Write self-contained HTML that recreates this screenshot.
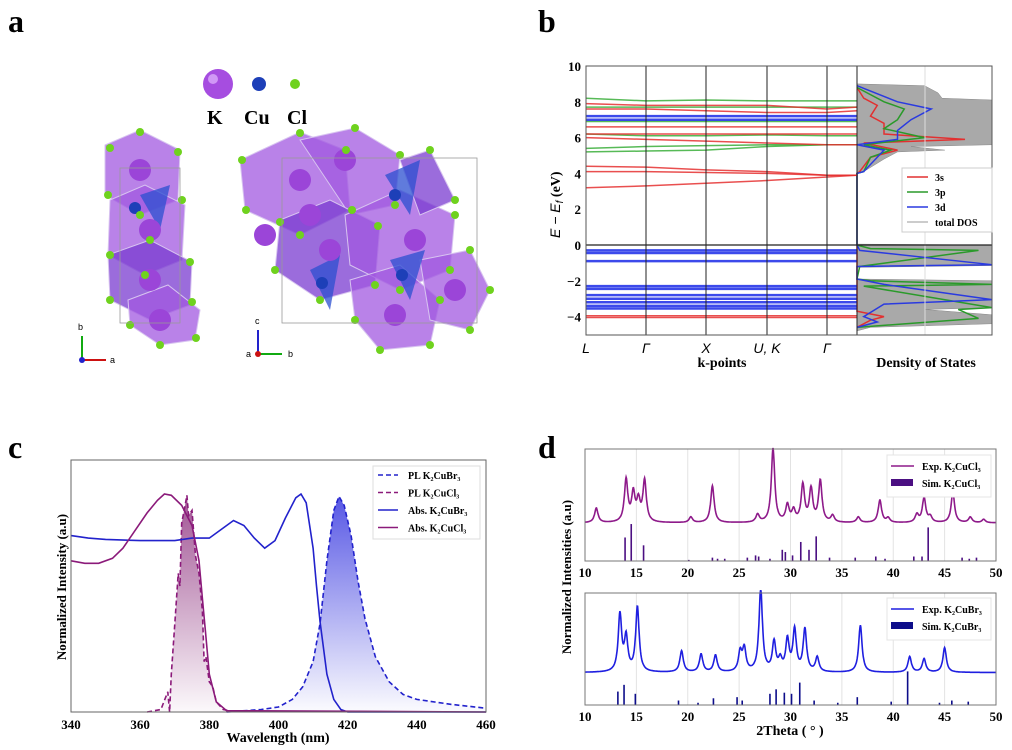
<!DOCTYPE html>
<html><head><meta charset="utf-8"><style>
html,body{margin:0;padding:0;background:#fff;}
svg{display:block;font-family:"Liberation Serif",serif;}
</style></head><body>
<svg id="fig" width="1012" height="750" viewBox="0 0 1012 750" xmlns="http://www.w3.org/2000/svg">
<defs>
<linearGradient id="gBlue" x1="0" y1="0" x2="0" y2="1"><stop offset="0" stop-color="#3a3ae0" stop-opacity="0.85"/><stop offset="1" stop-color="#3a3ae0" stop-opacity="0.02"/></linearGradient>
<linearGradient id="gPur" x1="0" y1="0" x2="0" y2="1"><stop offset="0" stop-color="#8a2a7a" stop-opacity="0.8"/><stop offset="1" stop-color="#8a2a7a" stop-opacity="0.03"/></linearGradient>
</defs>
<g font-weight="bold" font-size="32" fill="#000">
<text x="8" y="32">a</text>
<text x="538" y="32">b</text>
<text x="8" y="458">c</text>
<text x="538" y="458">d</text>
</g>
<!-- panel a -->
<g>
<circle cx="218" cy="84" r="15" fill="#a64de0"/><circle cx="213" cy="79" r="5" fill="#e3b8ff" opacity="0.7"/>
<circle cx="259" cy="84" r="7" fill="#1d3fb8"/>
<circle cx="295" cy="84" r="5" fill="#6fd21e"/>
<g font-weight="bold" font-size="20"><text x="207" y="124">K</text><text x="244" y="124">Cu</text><text x="287" y="124">Cl</text></g>
</g>
<g id="crystal"></g>
<g font-size="9" font-family="Liberation Sans,sans-serif">
<line x1="82" y1="360" x2="82" y2="336" stroke="#1a1" stroke-width="2"/><line x1="82" y1="360" x2="106" y2="360" stroke="#c11" stroke-width="2"/><circle cx="82" cy="360" r="3" fill="#22c"/>
<text x="78" y="330">b</text><text x="110" y="363">a</text>
<line x1="258" y1="354" x2="258" y2="330" stroke="#22c" stroke-width="2"/><line x1="258" y1="354" x2="282" y2="354" stroke="#1a1" stroke-width="2"/><circle cx="258" cy="354" r="3" fill="#c11"/>
<text x="255" y="324">c</text><text x="288" y="357">b</text><text x="246" y="357">a</text>
</g>
<g id="pb"></g>
<g id="pc"></g>
<g id="pd"></g>
</svg>
<script>
// ---------- Panel c data ----------
const absCl = [[340,0.60],[344,0.59],[348,0.59],[352,0.61],[355,0.65],[358,0.71],[362,0.79],[365,0.84],[367,0.865],[369,0.86],[372,0.82],[375,0.74],[377,0.6],[378,0.45],[379,0.3],[380,0.15],[382,0.04],[385,0.005],[460,0]];
const absBr = [[340,0.70],[345,0.69],[350,0.685],[360,0.68],[366,0.68],[370,0.68],[375,0.69],[380,0.69],[384,0.73],[387,0.76],[390,0.74],[393,0.69],[396,0.65],[399,0.68],[402,0.77],[405,0.85],[406.5,0.865],[408,0.83],[410,0.65],[411,0.5],[412,0.36],[414,0.15],[416,0.05],[418,0.01],[420,0],[460,0]];
const plBr = [[385,0],[395,0.01],[400,0.02],[404,0.05],[407,0.1],[410,0.2],[412,0.35],[414,0.6],[416,0.8],[417.5,0.855],[419,0.82],[421,0.7],[423,0.52],[425,0.37],[428,0.22],[432,0.12],[436,0.07],[440,0.05],[450,0.03],[460,0.015]];
const plCl = [[362,0],[366,0.01],[368,0.08],[368.5,0],[369,0.15],[370,0.35],[371,0.55],[371.5,0.5],[372,0.75],[373,0.82],[373.5,0.86],[374,0.78],[375,0.8],[376,0.62],[377,0.55],[378,0.4],[378.5,0.2],[379,0.22],[380,0.12],[381,0.1],[382,0.04],[384,0.01],[388,0]];
const cTicks = [340,360,380,400,420,440,460];
const cLegend = ["PL K₂CuBr₃","PL K₂CuCl₃","Abs. K₂CuBr₃","Abs. K₂CuCl₃"];
// ---------- Panel d data ----------
const dTicks = [10,15,20,25,30,35,40,45,50];
const clPeakPos = [11.1,14.0,14.7,15.2,15.8,20.3,22.4,26.8,28.3,29.7,30.3,31.2,32.0,32.9,34.1,36.6,38.7,39.5,42.3,43.0,43.6,45.8,47.5,48.8];
const clPeakH   = [0.13,0.38,0.25,0.18,0.37,0.05,0.33,0.07,0.66,0.15,0.10,0.33,0.29,0.37,0.06,0.05,0.20,0.04,0.07,0.22,0.05,0.27,0.05,0.03];
const clSimPos = [13.9,14.5,15.7,20.1,22.4,22.9,23.6,25.8,26.6,26.9,28.0,29.2,29.5,30.2,31.0,31.8,32.5,33.8,36.3,38.3,39.2,42.0,42.8,43.4,46.7,47.4,48.1];
const clSimH   = [0.21,0.33,0.14,0.01,0.03,0.02,0.02,0.03,0.05,0.04,0.02,0.10,0.08,0.05,0.17,0.10,0.22,0.03,0.03,0.04,0.02,0.04,0.04,0.30,0.03,0.02,0.03];
const brPeakPos = [13.4,14.0,15.1,19.4,21.3,22.7,25.1,25.5,27.1,28.4,29.0,29.7,30.4,31.4,32.6,36.8,41.6,43.0,45.0];
const brPeakH   = [0.51,0.30,0.58,0.19,0.16,0.15,0.17,0.20,0.75,0.26,0.10,0.28,0.37,0.38,0.13,0.42,0.14,0.12,0.22];
const brSimPos = [13.2,13.8,14.9,19.1,21.0,22.5,24.8,25.3,28.0,28.6,29.4,30.1,30.9,32.3,34.6,36.5,39.8,41.4,44.5,45.7,47.3];
const brSimH   = [0.12,0.18,0.10,0.04,0.02,0.06,0.07,0.04,0.10,0.14,0.11,0.10,0.20,0.04,0.02,0.07,0.03,0.30,0.02,0.04,0.03];
// ---------- Panel b data ----------
const kLabels = ["L","Γ","X","U, K","Γ"];
const eTicks = [10,8,6,4,2,0,-2,-4];
const redBands = [[7.9,7.8,7.8,7.8,7.6,7.7],[7.6,7.6,7.5,7.4,7.4,7.5],[6.6,6.6,6.6,6.6,6.6,6.6],[6.0,5.9,5.8,5.7,5.6,5.6],[6.2,6.2,6.2,6.2,6.2,6.2],[4.4,4.35,4.2,4.1,3.9,3.9],[4.1,4.1,4.05,4.0,3.9,3.9],[3.2,3.3,3.45,3.6,3.8,3.9],[-3.95,-3.95,-3.95,-3.95,-3.95,-3.95],[-4.05,-4.05,-4.05,-4.05,-4.05,-4.05]];
const greenBands = [[8.2,8.05,8.1,8.05,8.05,8.05],[7.7,7.7,7.7,7.7,7.7,7.7],[6.9,6.9,6.9,6.9,6.9,6.9],[6.2,6.1,6.1,6.15,6.1,6.1],[5.4,5.5,5.55,5.6,5.6,5.6],[5.2,5.25,5.3,5.5,5.6,5.6]];
const blueBands = [[7.2,7.2,7.2,7.2,7.2,7.2],[7.0,7.0,7.0,7.0,7.0,7.0],[-0.3,-0.3,-0.3,-0.3,-0.3,-0.3],[-0.45,-0.45,-0.45,-0.45,-0.45,-0.45],[-0.9,-0.9,-0.9,-0.9,-0.9,-0.9],[-2.3,-2.3,-2.3,-2.3,-2.3,-2.3],[-2.45,-2.45,-2.45,-2.45,-2.45,-2.45],[-2.8,-2.8,-2.8,-2.8,-2.8,-2.8],[-3.0,-3.0,-3.0,-3.0,-3.0,-3.0],[-3.2,-3.2,-3.2,-3.2,-3.2,-3.2],[-3.4,-3.4,-3.4,-3.4,-3.4,-3.4],[-3.55,-3.55,-3.55,-3.55,-3.55,-3.55]];
const totalDos = [[9.0,0],[8.9,0.5],[8.5,0.6],[8.2,0.63],[8.1,1],[5.6,1],[5.5,0.4],[5.3,0.65],[5.2,0.3],[4.8,0.2],[4.1,0.05],[4.0,0],[0.05,0],[0,1],[-1.15,1],[-1.25,0],[-1.9,0],[-2.0,1],[-3.5,1],[-3.6,0.5],[-3.9,1],[-4.4,1],[-4.6,0.1],[-4.8,0]];
const sDos = [[8.8,0],[8.2,0.05],[7.8,0.15],[7.2,0.1],[6.8,0.2],[6.2,0.2],[5.9,0.8],[5.7,0.05],[5.3,0.3],[4.9,0.1],[4.1,0.02],[4.0,0],[-3.7,0],[-4.0,0.2],[-4.2,0.1],[-4.6,0]];
const pDos = [[8.8,0],[8.0,0.2],[7.6,0.35],[7.0,0.3],[6.5,0.2],[6.0,0.5],[5.6,0.05],[5.3,0.25],[4.9,0.1],[4.1,0.05],[4.0,0],[0,0],[-0.2,0.1],[-0.3,0.9],[-1.2,0.02],[-1.9,0],[-2.0,0.1],[-2.2,1],[-2.3,0.05],[-3.5,1],[-3.6,0.75],[-4.1,0.9],[-4.6,0]];
const dDos = [[8.9,0],[8.0,0.3],[7.6,0.55],[7.0,0.4],[6.4,0.3],[5.9,0.3],[5.6,0],[5.3,0.2],[4.1,0.05],[4.0,0],[0,0],[-0.3,0.02],[-1.1,1],[-1.2,0],[-1.9,0],[-2.2,0.2],[-3.05,1],[-3.3,0.2],[-4.0,0.05],[-4.3,0.15],[-4.6,0]];
const dosLegend = ["3s","3p","3d","total DOS"];

const NS="http://www.w3.org/2000/svg";
function mk(tag,attrs,parent){const e=document.createElementNS(NS,tag);for(const k in attrs)e.setAttribute(k,attrs[k]);parent.appendChild(e);return e;}
function txt(s,attrs,parent){const e=mk('text',attrs,parent);e.textContent=s;return e;}

// ================= Panel a =================
(function(){
  const g=document.getElementById('crystal');
  const polys=[
   "105,145 140,130 180,150 178,200 140,215 105,195","110,200 145,185 185,205 182,260 145,275 108,255",
   "108,255 150,240 192,262 190,305 150,320 110,300","128,300 168,285 200,310 195,340 160,345 130,325",
   "240,160 300,132 345,150 350,210 300,235 245,210","300,140 355,128 400,155 395,205 350,215",
   "280,220 330,200 380,225 375,285 320,300 275,270","345,215 400,190 455,215 450,270 400,290 350,265",
   "350,280 400,265 440,300 430,345 380,350 355,320","420,260 470,250 490,290 470,330 430,320",
   "400,160 430,150 455,200 420,215"];
  polys.forEach((p,i)=>{
    const e=mk('polygon',{points:p,fill:i%4===2?'#7a3bd0':'#a158e0','fill-opacity':0.75,stroke:'#d8c4f0','stroke-width':1},g);
    
    
  });
  [["140,195 170,185 160,230"],["385,175 420,160 410,215"],["310,270 340,255 330,310"],["390,260 425,250 410,300"]].forEach(p=>{
    const e=mk('polygon',{points:p[0],fill:'#2b4fd0','fill-opacity':0.75},g);
    
    
  });
  const K=[[140,170],[150,230],[150,280],[160,320],[300,180],[345,160],[330,250],[415,240],[395,315],[455,290],[265,235],[310,215]];
  K.forEach(c=>{const e=mk('circle',{cx:c[0],cy:c[1],r:11,fill:'#9b45d8'},g);});
  const Cu=[[135,208],[395,195],[322,283],[402,275]];
  Cu.forEach(c=>{const e=mk('circle',{cx:c[0],cy:c[1],r:6,fill:'#1d3fb8'},g);});
  const Cl=[[110,148],[140,132],[178,152],[108,195],[182,200],[110,255],[190,262],[110,300],[192,302],[130,325],[160,345],[196,338],[140,215],[145,275],[150,240],
   [242,160],[300,133],[346,150],[352,210],[300,235],[246,210],[355,128],[400,155],[395,205],[280,222],[378,226],[275,270],[320,300],[375,285],[455,215],[450,270],[400,290],[440,300],[430,345],[380,350],[355,320],[470,250],[490,290],[470,330],[430,150],[455,200]];
  Cl.forEach(c=>{const e=mk('circle',{cx:c[0],cy:c[1],r:4,fill:'#6fd21e'},g);});
  mk('rect',{x:120,y:168,width:60,height:155,fill:'none',stroke:'#999','stroke-width':0.8},g);
  mk('rect',{x:282,y:158,width:195,height:165,fill:'none',stroke:'#999','stroke-width':0.8},g);
})();

// ================= Panel b =================
(function(){
  const g=document.getElementById('pb');
  const x0=586,xB=857,xD=992,yTop=66,yBot=335;
  const ey=e=>245-e*17.9;
  const kx=[586,646,706,767,827,857];
  const dx=v=>xB+v*(xD-xB);
  let pts=totalDos.map(d=>dx(d[1])+','+ey(d[0])).join(' ');
  let e=mk('polygon',{points:xB+','+ey(9)+' '+pts+' '+xB+','+ey(-4.8),fill:'#a9a9a9',stroke:'#888','stroke-width':0.5},g);
  
  
  [[sDos,'#e23030','dos-3s'],[pDos,'#2a9a2a','dos-3p'],[dDos,'#2a3ae0','dos-3d']].forEach(([arr,c,n])=>{
    const l=mk('polyline',{points:arr.map(d=>dx(d[1])+','+ey(d[0])).join(' '),fill:'none',stroke:c,'stroke-width':1.5},g);
    
    
  });
  mk('line',{x1:925,y1:yTop,x2:925,y2:yBot,stroke:'#ddd','stroke-width':1},g);
  [[greenBands,'#3aae3a',1.5],[redBands,'#e53030',1.5],[blueBands,'#1a2ae8',2.5]].forEach(([set,c,w])=>{
    set.forEach(b=>{
      const l=mk('polyline',{points:b.map((v,i)=>kx[i]+','+ey(v)).join(' '),fill:'none',stroke:c,'stroke-width':w,'stroke-opacity':0.85},g);
      
      
    });
  });
  mk('line',{x1:x0,y1:ey(0),x2:xD,y2:ey(0),stroke:'#222','stroke-width':1.3},g);
  kx.slice(1,5).forEach(x=>{mk('line',{x1:x,y1:yTop,x2:x,y2:yBot,stroke:'#222','stroke-width':1},g);});
  mk('line',{x1:xB,y1:yTop,x2:xB,y2:yBot,stroke:'#222','stroke-width':1},g);
  e=mk('rect',{x:x0,y:yTop,width:xD-x0,height:yBot-yTop,fill:'none',stroke:'#555','stroke-width':1},g);
  
  
  eTicks.forEach(t=>{
    const tt=txt(t<0?'−'+(-t):String(t),{x:581,y:ey(t)+5,'text-anchor':'end','font-size':13,'font-weight':'bold'},g);
    
    
  });
  kLabels.forEach((k,i)=>{
    const tt=txt(k,{x:kx[i],y:353,'text-anchor':'middle','font-size':14,'font-style':'italic','font-family':'Liberation Sans,sans-serif'},g);
    
    
  });
  txt('k-points',{x:722,y:367,'text-anchor':'middle','font-size':14,'font-weight':'bold'},g);
  txt('Density of States',{x:926,y:367,'text-anchor':'middle','font-size':14,'font-weight':'bold'},g);
  const yl=txt('E − E',{x:0,y:0,'font-size':14,'font-style':'italic','font-family':'Liberation Sans,sans-serif',transform:'translate(560,238) rotate(-90)'},g);
  
  const ts=mk('tspan',{'font-size':10,dy:3},yl);ts.textContent='f';
  const ts2=mk('tspan',{dy:-3,'font-style':'normal','font-family':'Liberation Serif,serif','font-weight':'bold'},yl);ts2.textContent=' (eV)';
  const lg=mk('g',{},g);
  
  
  mk('rect',{x:902,y:168,width:90,height:64,fill:'#fff',stroke:'#ccc'},lg);
  ['#e23030','#2a9a2a','#2a3ae0','#bbb'].forEach((c,i)=>{
    mk('line',{x1:907,y1:177+i*15,x2:928,y2:177+i*15,stroke:c,'stroke-width':1.5},lg);
    txt(dosLegend[i],{x:935,y:181+i*15,'font-size':10,'font-weight':'bold'},lg);
  });
})();

// ================= Panel c =================
(function(){
  const g=document.getElementById('pc');
  const x0=71,x1=486,yT=460,yB=712;
  const X=w=>x0+(w-340)/(120)*(x1-x0);
  const Y=v=>yB-v*(yB-yT);
  const path=a=>a.map((p,i)=>(i?'L':'M')+X(p[0]).toFixed(1)+','+Y(p[1]).toFixed(1)).join(' ');
  let e=mk('path',{d:path(plCl)+' L'+X(388)+','+yB+' L'+X(362)+','+yB+' Z',fill:'url(#gPur)'},g);
  
  
  e=mk('path',{d:path(plBr)+' L'+X(460)+','+yB+' L'+X(385)+','+yB+' Z',fill:'url(#gBlue)'},g);
  
  
  const series=[[plBr,'#2222cc','5,3','pl-k2cubr3'],[plCl,'#8b1a7a','5,3','pl-k2cucl3'],[absBr,'#2222cc','','abs-k2cubr3'],[absCl,'#8b1a7a','','abs-k2cucl3']];
  series.forEach(([a,c,da,n])=>{
    const l=mk('path',{d:path(a),fill:'none',stroke:c,'stroke-width':1.6,'stroke-dasharray':da||'none'},g);
    
    
  });
  e=mk('rect',{x:x0,y:yT,width:x1-x0,height:yB-yT,fill:'none',stroke:'#666','stroke-width':1},g);
  
  
  cTicks.forEach(t=>{
    const tt=txt(String(t),{x:X(t),y:729,'text-anchor':'middle','font-size':13,'font-weight':'bold'},g);
    
    
  });
  txt('Wavelength (nm)',{x:278,y:742,'text-anchor':'middle','font-size':14,'font-weight':'bold'},g);
  txt('Normalized Intensity (a.u)',{x:0,y:0,'text-anchor':'middle','font-size':13,'font-weight':'bold',transform:'translate(66,587) rotate(-90)'},g);
  const lg=mk('g',{},g);
  
  
  mk('rect',{x:373,y:466,width:107,height:73,fill:'#fff',stroke:'#ddd'},lg);
  series.forEach(([a,c,da],i)=>{
    mk('line',{x1:378,y1:475+i*17.5,x2:398,y2:475+i*17.5,stroke:c,'stroke-width':1.6,'stroke-dasharray':da||'none'},lg);
    txt(cLegend[i],{x:408,y:479+i*17.5,'font-size':10,'font-weight':'bold'},lg);
  });
})();

// ================= Panel d =================
(function(){
  const g=document.getElementById('pd');
  const x0=585,x1=996;
  const X=t=>x0+(t-10)/40*(x1-x0);
  function plot(yT,yB,base,pos,hs,spos,sh,col,simCol,names,legendY,leg){
    const H=yB-yT;
    dTicks.forEach(t=>{if(t>10&&t<50)mk('line',{x1:X(t),y1:yT,x2:X(t),y2:yB,stroke:'#e2e2e2','stroke-width':1},g);});
    spos.forEach((p,i)=>{
      const r=mk('rect',{x:X(p)-0.8,y:yB-sh[i]*H,width:1.6,height:sh[i]*H,fill:simCol},g);
      
      
    });
    let d='';
    for(let t=10;t<=50.001;t+=0.04){
      let v=base;
      pos.forEach((p,i)=>{const w=0.2;v+=hs[i]*w*w/((t-p)*(t-p)+w*w);});
      d+=(d?'L':'M')+X(t).toFixed(1)+','+(yB-Math.min(v,1.02)*H).toFixed(1);
    }
    const l=mk('path',{d:d,fill:'none',stroke:col,'stroke-width':1.6},g);
    
    
    const f=mk('rect',{x:x0,y:yT,width:x1-x0,height:H,fill:'none',stroke:'#777','stroke-width':1},g);
    
    
    dTicks.forEach(t=>{
      const tt=txt(String(t),{x:X(t),y:yB+16,'text-anchor':'middle','font-size':13,'font-weight':'bold'},g);
      
      
    });
    const lg=mk('g',{},g);
    
    
    mk('rect',{x:887,y:legendY,width:104,height:42,fill:'#fff',stroke:'#e4e4e4'},lg);
    mk('line',{x1:891,y1:legendY+11,x2:914,y2:legendY+11,stroke:col,'stroke-width':1.6},lg);
    mk('rect',{x:891,y:legendY+24,width:22,height:7,fill:simCol},lg);
    txt(leg[0],{x:922,y:legendY+15,'font-size':10,'font-weight':'bold'},lg);
    txt(leg[1],{x:922,y:legendY+32,'font-size':10,'font-weight':'bold'},lg);
  }
  plot(449,561,0.34,clPeakPos,clPeakH,clSimPos,clSimH,'#8e1a8a','#4b0f82',['xrd-k2cucl3','sim-k2cucl3'],455,['Exp. K₂CuCl₃','Sim. K₂CuCl₃']);
  plot(593,705,0.29,brPeakPos,brPeakH,brSimPos,brSimH,'#1f1fe0','#0d0d8a',['xrd-k2cubr3','sim-k2cubr3'],598,['Exp. K₂CuBr₃','Sim. K₂CuBr₃']);
  txt('2Theta ( ° )',{x:790,y:735,'text-anchor':'middle','font-size':14,'font-weight':'bold'},g);
  txt('Normalized Intensities (a.u)',{x:0,y:0,'text-anchor':'middle','font-size':13,'font-weight':'bold',transform:'translate(571,577) rotate(-90)'},g);
})();
</script>
</body></html>
